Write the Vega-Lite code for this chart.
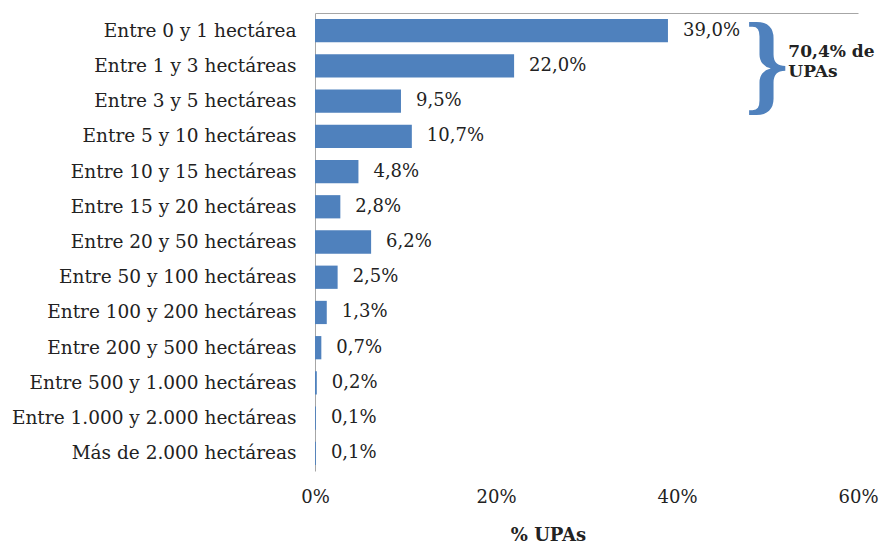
{
  "$schema": "https://vega.github.io/schema/vega-lite/v6.json",
  "width": 543,
  "height": 458,
  "autosize": "none",
  "padding": {"left": 315, "top": 13, "right": 22, "bottom": 73},
  "config": {
    "view": {"stroke": null},
    "font": "DejaVu Serif",
    "locale": {"number": {"decimal": ",", "thousands": ".", "grouping": [3], "currency": ["", " €"]}}
  },
  "data": {
    "values": [
      {"rango": "Entre 0 y 1 hectárea", "pct": 0.390},
      {"rango": "Entre 1 y 3 hectáreas", "pct": 0.220},
      {"rango": "Entre 3 y 5 hectáreas", "pct": 0.095},
      {"rango": "Entre 5 y 10 hectáreas", "pct": 0.107},
      {"rango": "Entre 10 y 15 hectáreas", "pct": 0.048},
      {"rango": "Entre 15 y 20 hectáreas", "pct": 0.028},
      {"rango": "Entre 20 y 50 hectáreas", "pct": 0.062},
      {"rango": "Entre 50 y 100 hectáreas", "pct": 0.025},
      {"rango": "Entre 100 y 200 hectáreas", "pct": 0.013},
      {"rango": "Entre 200 y 500 hectáreas", "pct": 0.007},
      {"rango": "Entre 500 y 1.000 hectáreas", "pct": 0.002},
      {"rango": "Entre 1.000 y 2.000 hectáreas", "pct": 0.001},
      {"rango": "Más de 2.000 hectáreas", "pct": 0.001}
    ]
  },
  "encoding": {
    "y": {
      "field": "rango", "type": "nominal", "sort": null,
      "scale": {"paddingInner": 0.34, "paddingOuter": 0.17},
      "axis": {"title": null, "ticks": false, "domainColor": "#A6A6A6", "domainWidth": 1, "labelPadding": 19, "labelFontSize": 18.5, "labelColor": "#222222", "labelFont": "DejaVu Serif", "labelLimit": 400}
    },
    "x": {
      "field": "pct", "type": "quantitative",
      "scale": {"domain": [0, 0.6], "nice": false},
      "axis": {"title": "% UPAs", "format": ".0%", "values": [0, 0.2, 0.4, 0.6], "grid": false, "ticks": false, "domain": false, "labelPadding": 17, "labelFontSize": 18, "labelColor": "#222222", "labelFontWeight": "normal", "titleFontSize": 18, "titleFontWeight": "bold", "titleColor": "#222222", "titlePadding": 20, "titleX": 233, "labelFlush": false}
    }
  },
  "resolve": {"axis": {"x": "independent"}},
  "layer": [
    {"mark": {"type": "bar", "color": "#4F81BD"}},
    {
      "mark": {"type": "text", "align": "left", "baseline": "middle", "dx": 15, "fontSize": 18, "color": "#222222"},
      "encoding": {
        "text": {"field": "pct", "type": "quantitative", "format": ".1%"},
        "x": {"field": "pct", "type": "quantitative", "axis": {"orient": "top", "values": [], "labels": false, "ticks": false, "grid": false, "domain": true, "domainColor": "#A6A6A6", "title": null}}
      }
    },
    {
      "transform": [{"filter": "datum.rango == 'Entre 1 y 3 hectáreas'"}],
      "mark": {"type": "text", "text": "}", "align": "center", "baseline": "middle", "fontSize": 112, "fontWeight": "bold", "font": "Liberation Serif", "color": "#4F81BD", "dx": 3},
      "encoding": {
        "x": {"datum": 0.496, "axis": null},
        "y": {"datum": "Entre 1 y 3 hectáreas"}
      }
    },
    {
      "transform": [{"filter": "datum.rango == 'Entre 1 y 3 hectáreas'"}],
      "mark": {"type": "text", "text": "70,4% de\nUPAs", "lineBreak": "\n", "align": "left", "baseline": "middle", "fontSize": 17, "fontWeight": "bold", "lineHeight": 20, "color": "#222222", "dy": -14},
      "encoding": {
        "x": {"datum": 0.523, "axis": null},
        "y": {"datum": "Entre 1 y 3 hectáreas"}
      }
    }
  ]
}
